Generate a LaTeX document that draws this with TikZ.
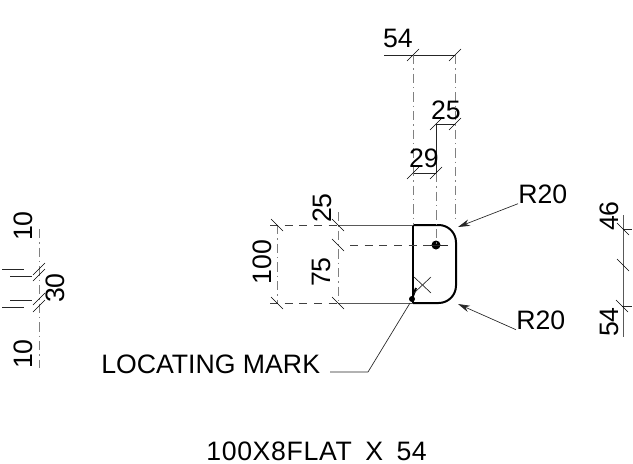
\documentclass[tikz,border=0pt]{standalone}
\usepackage{fontspec}
\setmainfont{Liberation Sans}
\usetikzlibrary{arrows.meta}
\begin{document}
\begin{tikzpicture}[x=0.75pt, y=-0.75pt,
    dimline/.style={black!65, line width=0.7pt},
    extline/.style={black!50, line width=0.5pt, dash pattern=on 7pt off 3pt on 1pt off 3pt},
    hidline/.style={black!75, line width=0.5pt, dash pattern=on 6pt off 5pt},
    tickmark/.style={black, line width=0.5pt},
    outline/.style={black, line width=1.5pt},
    leader/.style={black!85, line width=0.5pt},
    txt/.style={inner sep=0pt, font=\fontsize{20}{20}\selectfont}]
    \useasboundingbox (0, 0) rectangle (633, 464);
    % section
    \coordinate (tl) at (413, 225);
    \coordinate (tr) at (456, 225);
    \coordinate (br) at (456, 303);
    \coordinate (bl) at (413, 303);
    \coordinate (hole) at (436, 245);
    \draw[outline, rounded corners=13pt] (tl) -- (tr) -- (br) -- (bl);
    \draw[outline] (bl) -- (tl);
    \fill (hole) circle (4.5);
    \coordinate (mark) at (412, 299);
    \fill (mark) circle (3);
    \draw[outline] (mark) -- (416, 288);
    \draw[leader] (414, 277) -- (431, 293);
    \draw[leader] (431, 277) -- (414, 293);
    % top dimensions
    \coordinate (a1) at (413, 55);
    \coordinate (a2) at (455, 55);
    \coordinate (b1) at (436, 124);
    \coordinate (b2) at (455, 124);
    \coordinate (c1) at (413, 173);
    \coordinate (c2) at (436, 173);
    \coordinate (a0) at (384, 55);
    \draw[leader] (a0) -- (a2);
    \draw[leader] (b1) -- (b2);
    \draw[leader] (c1) -- (c2);
    \draw[extline] (a1) -- (tl);
    \draw[extline] (a2) -- (455, 222);
    \draw[leader] (b1) -- (c2);
    \draw[extline] (c2) -- (hole);
    \node[txt] (top54) at (398, 38) {54};
    \node[txt] (top25) at (446, 110) {25};
    \node[txt] (top29) at (424, 158) {29};
    % left dimensions
    \coordinate (d1) at (277, 225);
    \coordinate (d2) at (277, 303);
    \coordinate (e1) at (338, 225);
    \coordinate (e2) at (338, 245);
    \coordinate (e3) at (338, 303);
    \draw[extline] (d1) -- (d2);
    \draw[extline] (338, 212) -- (e3);
    \draw[hidline] (270, 225) -- (e1);
    \draw[hidline] (270, 303) -- (e3);
    \draw[dimline] (e1) -- (tl);
    \draw[dimline] (e3) -- (bl);
    \draw[hidline] (e2) ++(12, 0) -- (hole);
    \draw[leader] (hole) ++(-6, 0) -- ++(18, 0);
    \node[txt, rotate=90] (left100) at (262, 262) {100};
    \node[txt, rotate=90] (left25) at (322, 208) {25};
    \node[txt, rotate=90] (left75) at (321, 272) {75};
    % right dimensions
    \coordinate (f0) at (623, 215);
    \coordinate (f1) at (623, 229);
    \coordinate (f2) at (623, 265);
    \coordinate (f3) at (622, 306);
    \coordinate (f4) at (623, 337);
    \draw[dimline] (f0) -- (f4);
    \draw[leader] (f1) -- (632, 229);
    \draw[leader] (f3) -- (632, 306);
    \node[txt, rotate=90] (right46) at (609, 216) {46};
    \node[txt, rotate=90] (right54) at (609, 322) {54};
    % far left view
    \coordinate (g0) at (39, 229);
    \coordinate (g1) at (39, 368);
    \draw[extline] (g0) -- (g1);
    \draw[leader] (2, 269) -- (24, 269);
    \draw[leader] (10, 276) -- (32, 276);
    \draw[leader] (10, 300) -- (32, 300);
    \draw[leader] (2, 307) -- (24, 307);
    \node[txt, rotate=90] (side10a) at (23, 226) {10};
    \node[txt, rotate=90] (side30) at (55, 288) {30};
    \node[txt, rotate=90] (side10b) at (23, 354) {10};
    % ticks
    \foreach \p in {a1, a2, b1, b2, c1, c2}
        \draw[tickmark] (\p) ++(-6, 6) -- ++(12, -12);
    \foreach \p in {d1, d2, e1, e2, e3, f1, f2, f3}
        \draw[tickmark] (\p) ++(-6, -6) -- ++(12, 12);
    \foreach \p/\q in {39/269, 39/275, 39/299, 39/306}
        \draw[tickmark] (\p, \q) ++(-6, 6) -- ++(12, -12);
    % leaders
    \node[txt, anchor=west] (r20a) at (518, 194) {R20};
    \node[txt, anchor=west] (r20b) at (516, 320) {R20};
    \draw[leader, -{Stealth[length=9pt, width=5pt]}] (r20a.south west) -- (458, 227);
    \draw[leader, -{Stealth[length=9pt, width=5pt]}] (r20b.south west) -- (458, 304);
    \node[txt, anchor=west] (locmark) at (101, 364) {LOCATING MARK};
    \coordinate (elbow) at (368, 372);
    \draw[leader] (330, 372) -- (elbow) -- (410, 303);
    \node[txt, anchor=west] (caption) at (206, 451) {\addfontfeature{LetterSpace=2.5}100X8FLAT\hspace{4pt} X\hspace{4pt} 54};
\end{tikzpicture}
\end{document}
